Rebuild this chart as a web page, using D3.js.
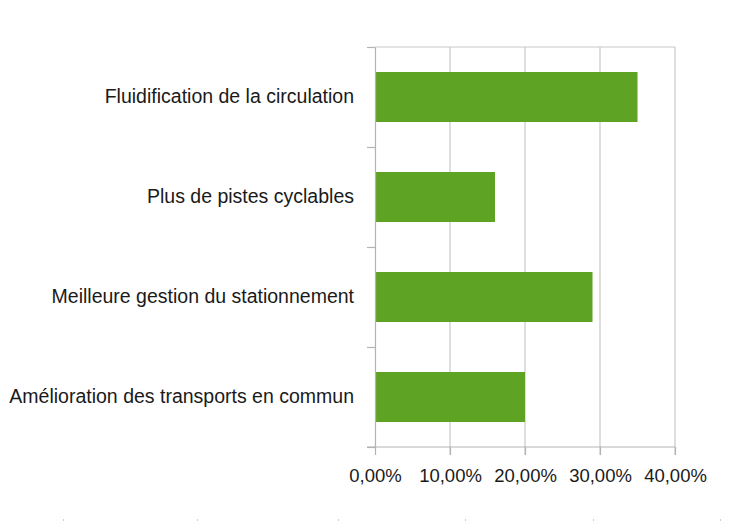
<!DOCTYPE html>
<html>
<head>
<meta charset="utf-8">
<script src="https://cdn.jsdelivr.net/npm/d3@7"></script>
<style>
body { margin: 0; background: #fff; }
text { font-family: "Liberation Sans", Arial, sans-serif; }
</style>
</head>
<body>
<svg id="chart" width="747" height="523"></svg>
<script>
var categories = ["Fluidification de la circulation", "Plus de pistes cyclables",
                  "Meilleure gestion du stationnement", "Amélioration des transports en commun"];
var values = [0.35, 0.16, 0.29, 0.20];
var ticks = [0, 0.1, 0.2, 0.3, 0.4];
var footDots = [63, 197, 338, 465, 593, 720];

var svg = d3.select("svg#chart");
var plotL = 375, plotR = 675, plotT = 47, plotB = 447;

var x = d3.scaleLinear().domain([0, 0.4]).range([plotL, plotR]);
var y = d3.scaleBand().domain(categories).range([plotT, plotB])
            .paddingInner(0.5).paddingOuter(0.25);
var fmt = d => d3.format(".2f")(d * 100).replace(".", ",") + "%";

// grid
svg.selectAll("line.grid")
    .data(ticks.slice(1))
    .enter()
    .append("line")
    .attr("x1", d => x(d)).attr("x2", d => x(d))
    .attr("y1", plotT).attr("y2", plotB + 8)
    .attr("stroke", "#c8c8c8").attr("stroke-width", 1.2);
svg.append("line")
    .attr("x1", plotL).attr("x2", plotR)
    .attr("y1", plotT).attr("y2", plotT)
    .attr("stroke", "#c8c8c8").attr("stroke-width", 1.2);

// bars
svg.selectAll("rect.bar")
    .data(categories)
    .enter()
    .append("rect")
    .attr("x", x(0))
    .attr("y", d => y(d))
    .attr("width", (d, i) => x(values[i]) - x(0))
    .attr("height", y.bandwidth())
    .attr("fill", "#5ea324");

// axes
var xAxis = svg.append("g").attr("transform", "translate(0," + plotB + ")")
    .call(d3.axisBottom(x).tickValues(ticks).tickFormat(fmt).tickSize(8).tickSizeOuter(0));
var yEdges = d3.range(categories.length + 1).map(i => plotT + i * (plotB - plotT) / categories.length);
var yAxis = svg.append("g").attr("transform", "translate(" + plotL + ",0)")
    .call(d3.axisLeft(d3.scaleLinear().domain([plotT, plotB]).range([plotT, plotB]))
            .tickValues(yEdges).tickFormat("").tickSize(8).tickSizeOuter(0));

[xAxis, yAxis].forEach(g => {
    g.select(".domain").attr("stroke", "#b3b3b3").attr("stroke-width", 1.2);
    g.selectAll(".tick line").attr("stroke", "#b3b3b3").attr("stroke-width", 1.2);
});
xAxis.select(".domain").attr("d", "M" + (plotL - 8) + ",0H" + plotR);
xAxis.selectAll(".tick text")
    .attr("y", 35)
    .attr("dy", 0)
    .attr("font-size", 18.5)
    .attr("fill", "#1a1a1a");

svg.selectAll("text.cat")
    .data(categories)
    .enter()
    .append("text")
    .attr("x", plotL - 21)
    .attr("y", d => y(d) + y.bandwidth() / 2)
    .attr("dy", "0.3em")
    .attr("text-anchor", "end")
    .attr("font-size", 19.5)
    .attr("fill", "#1a1a1a")
    .text(d => d);

svg.selectAll("rect.dot")
    .data(footDots)
    .enter()
    .append("rect")
    .attr("x", d => d).attr("y", 519)
    .attr("width", 1).attr("height", 2)
    .attr("fill", "#ccc");
</script>
</body>
</html>
